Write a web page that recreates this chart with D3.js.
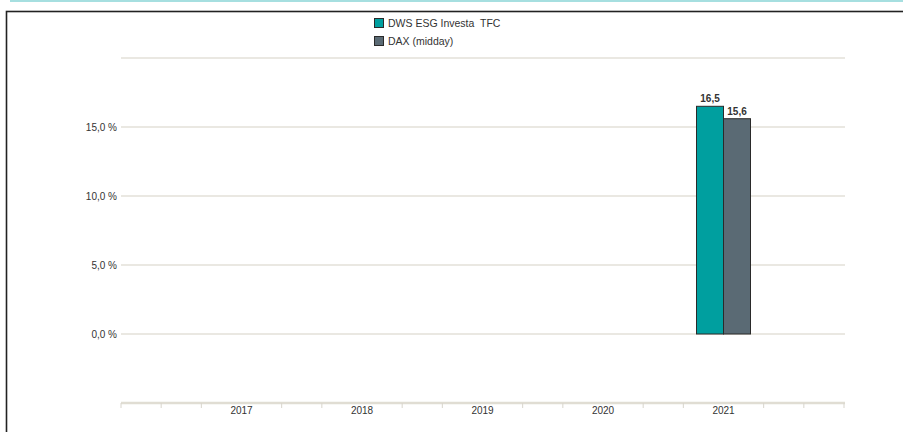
<html>
<head>
<script src="https://d3js.org/d3.v7.min.js"></script>
<style>
  body { margin: 0; background: #fff; }
  text { font-family: "Liberation Sans", Arial, sans-serif; fill: #333; }
</style>
</head>
<body>
<svg id="chart" width="903" height="432"></svg>
<script>
// data
var years = [2016, 2017, 2018, 2019, 2020, 2021, 2022];
var yearLabels = ["2017", "2018", "2019", "2020", "2021"];
var seriesNames = ["DWS ESG Investa  TFC", "DAX (midday)"];
var seriesColors = ["#009f9f", "#5a6a74"];
var barYears = [2021];
var fundValues = [16.5];
var daxValues = [15.6];
var yTicks = [0, 5, 10, 15];
var yGrid = [0, 5, 10, 15, 20];

var svg = d3.select("#chart");

// frame
svg.append("line").attr("x1", 10).attr("x2", 903).attr("y1", 1).attr("y2", 1)
  .style("stroke", "#a6dfe0").style("stroke-width", 2);
svg.append("rect").attr("x", 6.5).attr("y", 11.5).attr("width", 1000).attr("height", 500)
  .style("fill", "none").style("stroke", "#222").style("stroke-width", 1.6);

var x = d3.scaleLinear().domain([2016, 2022]).range([121, 844]);
var y = d3.scaleLinear().domain([-5, 20]).range([403, 58]);

// gridlines
svg.append("g").selectAll("line").data(yGrid).enter().append("line")
  .attr("x1", 121).attr("x2", 845)
  .attr("y1", function(d) { return y(d); }).attr("y2", function(d) { return y(d); })
  .style("stroke", "#e3e0d8").style("stroke-width", 1.5);

// y labels
svg.append("g").selectAll("text").data(yTicks).enter().append("text")
  .attr("x", 117).attr("y", function(d) { return y(d) + 3.5; })
  .style("text-anchor", "end").style("font-size", "10px")
  .text(function(d) { return d3.format(".1f")(d).replace(".", ",") + " %"; });

// x axis
svg.append("line").attr("x1", 121).attr("x2", 845).attr("y1", y(-5)).attr("y2", y(-5))
  .style("stroke", "#e0ddd3").style("stroke-width", 2.5);
var tickVals = [2016, 2022];
years.slice(0, 6).forEach(function(yr) { tickVals.push(yr + 1/3, yr + 2/3); });
svg.append("g").selectAll("line").data(tickVals).enter().append("line")
  .attr("x1", function(d) { return x(d); }).attr("x2", function(d) { return x(d); })
  .attr("y1", y(-5)).attr("y2", y(-5) + 5)
  .style("stroke", "#d8d5cc").style("stroke-width", 1);
svg.append("g").selectAll("text").data(yearLabels).enter().append("text")
  .attr("x", function(d) { return x(+d); }).attr("y", 414)
  .style("text-anchor", "middle").style("font-size", "10px")
  .text(function(d) { return d; });

// bars
var inner = d3.scaleBand().domain([0, 1]).range([-27, 27]);
var seriesVals = [fundValues, daxValues];
var fmt = function(v) { return d3.format(".1f")(v).replace(".", ","); };
seriesVals.forEach(function(vals, s) {
  var g = svg.append("g");
  g.selectAll("rect").data(vals).enter().append("rect")
    .attr("x", function(d, i) { return x(barYears[i]) + inner(s); })
    .attr("width", inner.bandwidth())
    .attr("y", function(d) { return y(d); })
    .attr("height", function(d) { return y(0) - y(d); })
    .style("fill", seriesColors[s]).style("stroke", "#2a2a2a").style("stroke-width", 1);
  g.selectAll("text").data(vals).enter().append("text")
    .attr("x", function(d, i) { return x(barYears[i]) + inner(s) + inner.bandwidth() / 2; })
    .attr("y", function(d) { return y(d) - 4; })
    .style("text-anchor", "middle").style("font-size", "10px").style("font-weight", "bold")
    .text(fmt);
});

// legend
var lg = svg.append("g").selectAll("g").data(seriesNames).enter().append("g")
  .attr("transform", function(d, i) { return "translate(374," + (18 + i * 18) + ")"; });
lg.append("rect").attr("x", 0.5).attr("y", 0.5).attr("width", 9).attr("height", 9)
  .style("fill", function(d, i) { return seriesColors[i]; })
  .style("stroke", "#2a2a2a").style("stroke-width", 1);
lg.append("text").attr("x", 14).attr("y", 9).style("font-size", "10.5px")
  .style("white-space", "pre").text(function(d) { return d; });
</script>
</body>
</html>
